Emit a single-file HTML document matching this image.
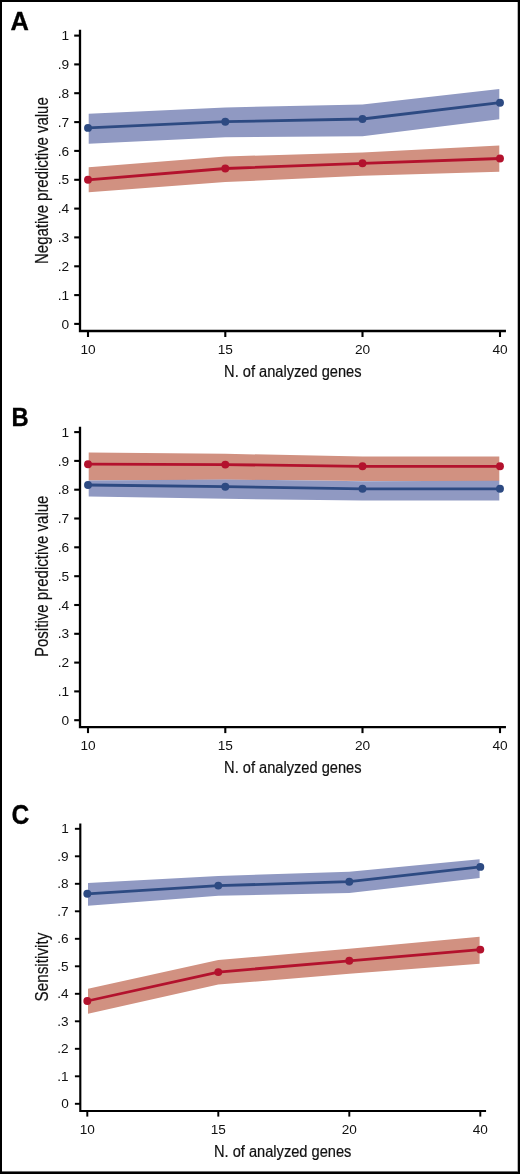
<!DOCTYPE html>
<html><head><meta charset="utf-8"><title>Figure</title>
<style>
html,body{margin:0;padding:0;background:#fff}
#fig{position:relative;width:520px;height:1174px;overflow:hidden;background:#fff}
svg{position:absolute;left:0;top:0;display:block}
svg text{font-family:"Liberation Sans",sans-serif;fill:#111}
.lab{stroke:#111;stroke-width:0.2px}
.panel{font-weight:bold;font-size:26.5px;fill:#000;stroke:#000;stroke-width:0.3px}
#frame{position:absolute;left:0;top:0;width:516px;height:1170px;border:2px solid #000;pointer-events:none}
</style></head><body>
<div id="fig">
<svg width="520" height="1174" viewBox="0 0 520 1174">
<rect width="520" height="1174" fill="#fff"/>
<polygon points="88.7,113.8 225.3,107.5 362.5,104.5 499.3,89.0 499.3,119.3 362.5,136.3 225.3,137.3 88.7,143.8" fill="#9099c2"/>
<polygon points="88.7,167.3 225.3,156.5 362.5,152.5 499.3,145.6 499.3,171.7 362.5,175.8 225.3,182.1 88.7,192.3" fill="#d19181"/>
<polyline points="88.0,127.9 225.3,121.7 362.5,119.0 500.0,102.7" fill="none" stroke="#2d4a82" stroke-width="2.8" stroke-linejoin="round"/>
<circle cx="88.0" cy="127.9" r="3.95" fill="#2d4a82"/>
<circle cx="225.3" cy="121.7" r="3.95" fill="#2d4a82"/>
<circle cx="362.5" cy="119.0" r="3.95" fill="#2d4a82"/>
<circle cx="500.0" cy="102.7" r="3.95" fill="#2d4a82"/>
<polyline points="88.0,179.8 225.3,168.5 362.5,163.3 500.0,158.5" fill="none" stroke="#b3122d" stroke-width="2.8" stroke-linejoin="round"/>
<circle cx="88.0" cy="179.8" r="3.95" fill="#b3122d"/>
<circle cx="225.3" cy="168.5" r="3.95" fill="#b3122d"/>
<circle cx="362.5" cy="163.3" r="3.95" fill="#b3122d"/>
<circle cx="500.0" cy="158.5" r="3.95" fill="#b3122d"/>
<path d="M80 31.0V331.0H504.8" fill="none" stroke="#000" stroke-width="2.30" stroke-linecap="square" stroke-linejoin="miter"/>
<path d="M74.2 323.9H80" stroke="#000" stroke-width="2.10"/>
<text x="69.2" y="328.6" text-anchor="end" font-size="13.7">0</text>
<path d="M74.2 295.1H80" stroke="#000" stroke-width="2.10"/>
<text x="69.2" y="299.7" text-anchor="end" font-size="13.7">.1</text>
<path d="M74.2 266.3H80" stroke="#000" stroke-width="2.10"/>
<text x="69.2" y="270.9" text-anchor="end" font-size="13.7">.2</text>
<path d="M74.2 237.4H80" stroke="#000" stroke-width="2.10"/>
<text x="69.2" y="242.0" text-anchor="end" font-size="13.7">.3</text>
<path d="M74.2 208.6H80" stroke="#000" stroke-width="2.10"/>
<text x="69.2" y="213.2" text-anchor="end" font-size="13.7">.4</text>
<path d="M74.2 179.8H80" stroke="#000" stroke-width="2.10"/>
<text x="69.2" y="184.3" text-anchor="end" font-size="13.7">.5</text>
<path d="M74.2 150.9H80" stroke="#000" stroke-width="2.10"/>
<text x="69.2" y="155.5" text-anchor="end" font-size="13.7">.6</text>
<path d="M74.2 122.1H80" stroke="#000" stroke-width="2.10"/>
<text x="69.2" y="126.7" text-anchor="end" font-size="13.7">.7</text>
<path d="M74.2 93.2H80" stroke="#000" stroke-width="2.10"/>
<text x="69.2" y="97.8" text-anchor="end" font-size="13.7">.8</text>
<path d="M74.2 64.4H80" stroke="#000" stroke-width="2.10"/>
<text x="69.2" y="69.0" text-anchor="end" font-size="13.7">.9</text>
<path d="M74.2 35.6H80" stroke="#000" stroke-width="2.10"/>
<text x="69.2" y="40.2" text-anchor="end" font-size="13.7">1</text>
<path d="M88.0 331.0V337.0" stroke="#000" stroke-width="2.10"/>
<text x="88.0" y="353.8" text-anchor="middle" font-size="13.7">10</text>
<path d="M225.3 331.0V337.0" stroke="#000" stroke-width="2.10"/>
<text x="225.3" y="353.8" text-anchor="middle" font-size="13.7">15</text>
<path d="M362.5 331.0V337.0" stroke="#000" stroke-width="2.10"/>
<text x="362.5" y="353.8" text-anchor="middle" font-size="13.7">20</text>
<path d="M500.0 331.0V337.0" stroke="#000" stroke-width="2.10"/>
<text x="500.0" y="353.8" text-anchor="middle" font-size="13.7">40</text>
<text transform="translate(47.9 180.6) rotate(-90)" text-anchor="middle" font-size="18" class="lab" textLength="166.6" lengthAdjust="spacingAndGlyphs">Negative predictive value</text>
<text x="224.1" y="377.2" font-size="15.6" class="lab" textLength="137.4" lengthAdjust="spacingAndGlyphs">N. of analyzed genes</text>
<polygon points="88.7,452.5 225.3,453.8 362.5,456.4 499.3,456.4 499.3,481.0 362.5,481.0 225.3,479.8 88.7,480.6" fill="#d19181"/>
<polygon points="88.7,480.4 225.3,479.5 362.5,481.2 499.3,480.7 499.3,500.6 362.5,500.6 225.3,498.8 88.7,496.5" fill="#9099c2"/>
<polyline points="88.0,464.2 225.3,464.6 362.5,466.3 500.0,466.3" fill="none" stroke="#b3122d" stroke-width="2.8" stroke-linejoin="round"/>
<circle cx="88.0" cy="464.2" r="3.95" fill="#b3122d"/>
<circle cx="225.3" cy="464.6" r="3.95" fill="#b3122d"/>
<circle cx="362.5" cy="466.3" r="3.95" fill="#b3122d"/>
<circle cx="500.0" cy="466.3" r="3.95" fill="#b3122d"/>
<polyline points="88.0,485.0 225.3,486.7 362.5,488.8 500.0,488.8" fill="none" stroke="#2d4a82" stroke-width="2.8" stroke-linejoin="round"/>
<circle cx="88.0" cy="485.0" r="3.95" fill="#2d4a82"/>
<circle cx="225.3" cy="486.7" r="3.95" fill="#2d4a82"/>
<circle cx="362.5" cy="488.8" r="3.95" fill="#2d4a82"/>
<circle cx="500.0" cy="488.8" r="3.95" fill="#2d4a82"/>
<path d="M80 428.0V727.1H504.8" fill="none" stroke="#000" stroke-width="2.30" stroke-linecap="square" stroke-linejoin="miter"/>
<path d="M74.2 720.2H80" stroke="#000" stroke-width="2.10"/>
<text x="69.2" y="724.8" text-anchor="end" font-size="13.7">0</text>
<path d="M74.2 691.4H80" stroke="#000" stroke-width="2.10"/>
<text x="69.2" y="696.0" text-anchor="end" font-size="13.7">.1</text>
<path d="M74.2 662.6H80" stroke="#000" stroke-width="2.10"/>
<text x="69.2" y="667.2" text-anchor="end" font-size="13.7">.2</text>
<path d="M74.2 633.8H80" stroke="#000" stroke-width="2.10"/>
<text x="69.2" y="638.4" text-anchor="end" font-size="13.7">.3</text>
<path d="M74.2 605.0H80" stroke="#000" stroke-width="2.10"/>
<text x="69.2" y="609.6" text-anchor="end" font-size="13.7">.4</text>
<path d="M74.2 576.2H80" stroke="#000" stroke-width="2.10"/>
<text x="69.2" y="580.8" text-anchor="end" font-size="13.7">.5</text>
<path d="M74.2 547.3H80" stroke="#000" stroke-width="2.10"/>
<text x="69.2" y="551.9" text-anchor="end" font-size="13.7">.6</text>
<path d="M74.2 518.5H80" stroke="#000" stroke-width="2.10"/>
<text x="69.2" y="523.1" text-anchor="end" font-size="13.7">.7</text>
<path d="M74.2 489.7H80" stroke="#000" stroke-width="2.10"/>
<text x="69.2" y="494.3" text-anchor="end" font-size="13.7">.8</text>
<path d="M74.2 460.9H80" stroke="#000" stroke-width="2.10"/>
<text x="69.2" y="465.5" text-anchor="end" font-size="13.7">.9</text>
<path d="M74.2 432.1H80" stroke="#000" stroke-width="2.10"/>
<text x="69.2" y="436.7" text-anchor="end" font-size="13.7">1</text>
<path d="M88.0 727.1V733.1" stroke="#000" stroke-width="2.10"/>
<text x="88.0" y="749.9" text-anchor="middle" font-size="13.7">10</text>
<path d="M225.3 727.1V733.1" stroke="#000" stroke-width="2.10"/>
<text x="225.3" y="749.9" text-anchor="middle" font-size="13.7">15</text>
<path d="M362.5 727.1V733.1" stroke="#000" stroke-width="2.10"/>
<text x="362.5" y="749.9" text-anchor="middle" font-size="13.7">20</text>
<path d="M500.0 727.1V733.1" stroke="#000" stroke-width="2.10"/>
<text x="500.0" y="749.9" text-anchor="middle" font-size="13.7">40</text>
<text transform="translate(47.9 576.3) rotate(-90)" text-anchor="middle" font-size="18" class="lab" textLength="161.6" lengthAdjust="spacingAndGlyphs">Positive predictive value</text>
<text x="224.1" y="773.4" font-size="15.6" class="lab" textLength="137.4" lengthAdjust="spacingAndGlyphs">N. of analyzed genes</text>
<polygon points="88.0,883.1 218.3,876.0 349.3,871.7 479.6,859.2 479.6,878.1 349.3,892.9 218.3,895.8 88.0,905.8" fill="#9099c2"/>
<polygon points="88.0,988.8 218.3,960.0 349.3,948.7 479.6,936.7 479.6,963.7 349.3,973.7 218.3,984.6 88.0,1013.8" fill="#d19181"/>
<polyline points="87.3,893.8 218.3,885.6 349.3,881.7 480.3,866.9" fill="none" stroke="#2d4a82" stroke-width="2.8" stroke-linejoin="round"/>
<circle cx="87.3" cy="893.8" r="3.95" fill="#2d4a82"/>
<circle cx="218.3" cy="885.6" r="3.95" fill="#2d4a82"/>
<circle cx="349.3" cy="881.7" r="3.95" fill="#2d4a82"/>
<circle cx="480.3" cy="866.9" r="3.95" fill="#2d4a82"/>
<polyline points="87.3,1001.0 218.3,972.1 349.3,960.8 480.3,949.6" fill="none" stroke="#b3122d" stroke-width="2.8" stroke-linejoin="round"/>
<circle cx="87.3" cy="1001.0" r="3.95" fill="#b3122d"/>
<circle cx="218.3" cy="972.1" r="3.95" fill="#b3122d"/>
<circle cx="349.3" cy="960.8" r="3.95" fill="#b3122d"/>
<circle cx="480.3" cy="949.6" r="3.95" fill="#b3122d"/>
<path d="M80.3 824.6V1111.0H485.0" fill="none" stroke="#000" stroke-width="2.14" stroke-linecap="square" stroke-linejoin="miter"/>
<path d="M74.9 1103.8H80.3" stroke="#000" stroke-width="1.95"/>
<text x="68.7" y="1108.1" text-anchor="end" font-size="13.6">0</text>
<path d="M74.9 1076.3H80.3" stroke="#000" stroke-width="1.95"/>
<text x="68.7" y="1080.6" text-anchor="end" font-size="13.6">.1</text>
<path d="M74.9 1048.8H80.3" stroke="#000" stroke-width="1.95"/>
<text x="68.7" y="1053.1" text-anchor="end" font-size="13.6">.2</text>
<path d="M74.9 1021.3H80.3" stroke="#000" stroke-width="1.95"/>
<text x="68.7" y="1025.6" text-anchor="end" font-size="13.6">.3</text>
<path d="M74.9 993.8H80.3" stroke="#000" stroke-width="1.95"/>
<text x="68.7" y="998.1" text-anchor="end" font-size="13.6">.4</text>
<path d="M74.9 966.3H80.3" stroke="#000" stroke-width="1.95"/>
<text x="68.7" y="970.6" text-anchor="end" font-size="13.6">.5</text>
<path d="M74.9 938.8H80.3" stroke="#000" stroke-width="1.95"/>
<text x="68.7" y="943.1" text-anchor="end" font-size="13.6">.6</text>
<path d="M74.9 911.3H80.3" stroke="#000" stroke-width="1.95"/>
<text x="68.7" y="915.6" text-anchor="end" font-size="13.6">.7</text>
<path d="M74.9 883.8H80.3" stroke="#000" stroke-width="1.95"/>
<text x="68.7" y="888.1" text-anchor="end" font-size="13.6">.8</text>
<path d="M74.9 856.3H80.3" stroke="#000" stroke-width="1.95"/>
<text x="68.7" y="860.6" text-anchor="end" font-size="13.6">.9</text>
<path d="M74.9 828.8H80.3" stroke="#000" stroke-width="1.95"/>
<text x="68.7" y="833.1" text-anchor="end" font-size="13.6">1</text>
<path d="M87.3 1111.0V1116.6" stroke="#000" stroke-width="1.95"/>
<text x="87.3" y="1133.6" text-anchor="middle" font-size="13.6">10</text>
<path d="M218.3 1111.0V1116.6" stroke="#000" stroke-width="1.95"/>
<text x="218.3" y="1133.6" text-anchor="middle" font-size="13.6">15</text>
<path d="M349.3 1111.0V1116.6" stroke="#000" stroke-width="1.95"/>
<text x="349.3" y="1133.6" text-anchor="middle" font-size="13.6">20</text>
<path d="M480.3 1111.0V1116.6" stroke="#000" stroke-width="1.95"/>
<text x="480.3" y="1133.6" text-anchor="middle" font-size="13.6">40</text>
<text transform="translate(47.9 967.1) rotate(-90)" text-anchor="middle" font-size="18" class="lab" textLength="68.8" lengthAdjust="spacingAndGlyphs">Sensitivity</text>
<text x="214.0" y="1157.2" font-size="15.6" class="lab" textLength="137.4" lengthAdjust="spacingAndGlyphs">N. of analyzed genes</text>
<text class="panel" x="10.6" y="29.7" textLength="18.4" lengthAdjust="spacingAndGlyphs">A</text>
<text class="panel" x="11.4" y="426.3" textLength="17.2" lengthAdjust="spacingAndGlyphs">B</text>
<text class="panel" style="font-size:27.6px" x="11.5" y="823.8" textLength="17.8" lengthAdjust="spacingAndGlyphs">C</text>
</svg>
<div id="frame"></div><div style="position:absolute;left:2px;top:1171px;width:516px;height:1px;background:#6e6e6e"></div><div style="position:absolute;left:517px;top:2px;width:1px;height:1169px;background:#b8b8b8"></div>
</div>
</body></html>
